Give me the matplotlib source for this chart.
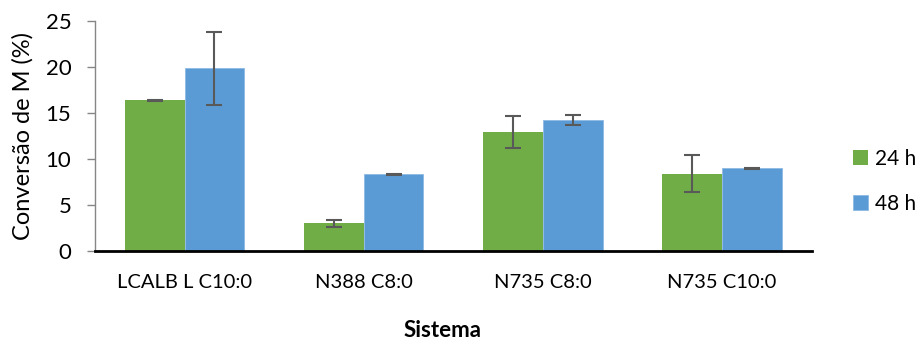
import matplotlib.pyplot as plt
import numpy as np

plt.rcParams['font.family'] = ['Lato', 'DejaVu Sans']

sistemas = ['LCALB L C10:0', 'N388 C8:0', 'N735 C8:0', 'N735 C10:0']
conv_24h = [16.37, 2.98, 12.92, 8.38]
conv_48h = [19.85, 8.31, 14.22, 8.96]
err_24h = [0.05, 0.40, 1.76, 2.00]
err_48h = [4.00, 0.05, 0.53, 0.05]
series_labels = ['24 h', '48 h']

green = '#70AD47'
blue = '#5B9BD5'
err_col = '#595959'

fig = plt.figure(figsize=(9.16, 3.4), dpi=100)
ax = fig.add_axes([0.1037, 0.2626, 0.7824, 0.6756])

x = np.arange(len(sistemas))
w = 1 / 3
err_kw = dict(ecolor=err_col, elinewidth=1.5, capsize=6, capthick=1.5)
ax.bar(x - w / 2, conv_24h, w, color=green, yerr=err_24h,
       error_kw=err_kw, label=series_labels[0])
ax.bar(x + w / 2, conv_48h, w, color=blue, edgecolor='#8DB9E4', linewidth=0.6,
       yerr=err_48h, error_kw=err_kw, label=series_labels[1])

ax.set_xlim(-0.5, len(sistemas) - 0.5)
ax.set_ylim(0, 25)
ax.set_yticks(np.arange(0, 26, 5))
ax.set_xticks(x)
ax.set_xticklabels(sistemas)
ax.tick_params(axis='x', length=0, pad=17, labelsize=14.5)
ax.tick_params(axis='y', length=6, width=1, color='#868686', pad=11, labelsize=16)

for side in ('top', 'right'):
    ax.spines[side].set_visible(False)
ax.spines['left'].set_color('#868686')
ax.spines['left'].set_linewidth(1)
ax.spines['bottom'].set_color('black')
ax.spines['bottom'].set_linewidth(2)

ax.set_ylabel('Conversão de M (%)', fontsize=17, labelpad=9)
fig.text(0.483, 3 / 340, 'Sistema', fontsize=16, fontweight='bold',
         ha='center', va='baseline')

fig.legend(loc='center left', bbox_to_anchor=(0.931, 0.467), frameon=False,
           fontsize=15, handlelength=0.75, handleheight=0.75, handletextpad=0.3,
           labelspacing=1.2, borderaxespad=0, borderpad=0)

fig.savefig('out.png', dpi=100)
